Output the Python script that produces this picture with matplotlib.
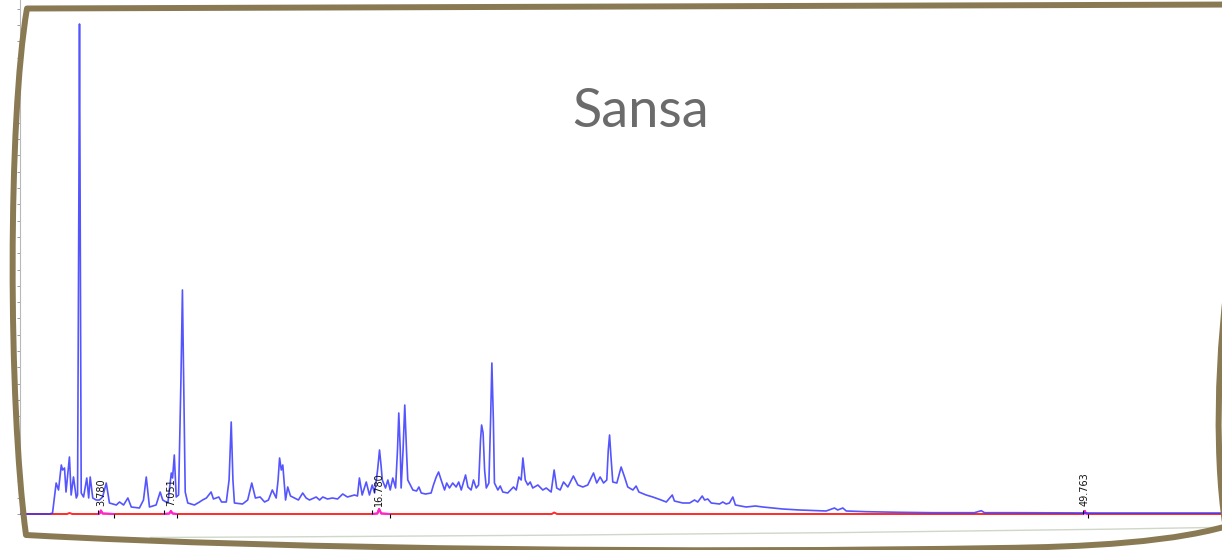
import numpy as np
import matplotlib
matplotlib.use("Agg")
import matplotlib.pyplot as plt
from matplotlib.path import Path
from matplotlib.patches import PathPatch

# ---- detector trace (retention time in minutes, signal in mAU) ----
blue_time = [
    0.00, 1.38, 1.52, 1.69, 1.80, 1.93, 1.99, 2.08, 2.15, 2.31,
    2.39, 2.50, 2.63, 2.69, 2.75, 2.78, 2.82, 2.86, 2.97, 3.12,
    3.21, 3.28, 3.40, 3.56, 3.71, 3.86, 4.03, 4.18, 4.50, 4.65,
    4.84, 5.04, 5.20, 5.58, 5.77, 5.90, 6.05, 6.36, 6.55, 6.67,
    6.91, 7.07, 7.13, 7.21, 7.30, 7.41, 7.52, 7.59, 7.66, 7.72,
    7.84, 8.15, 8.39, 8.53, 8.71, 8.93, 9.04, 9.29, 9.42, 9.64,
    9.77, 9.87, 9.95, 10.02, 10.40, 10.64, 10.83, 11.00, 11.22, 11.43,
    11.61, 11.79, 11.97, 12.06, 12.13, 12.21, 12.28, 12.41, 12.51, 12.64,
    12.83, 13.01, 13.21, 13.37, 13.53, 13.84, 14.00, 14.15, 14.37, 14.60,
    14.84, 15.08, 15.30, 15.63, 15.77, 15.86, 15.99, 16.18, 16.33, 16.46,
    16.57, 16.71, 16.80, 16.87, 16.93, 17.08, 17.19, 17.30, 17.42, 17.55,
    17.64, 17.70, 17.77, 17.81, 17.90, 17.98, 18.06, 18.12, 18.36, 18.53,
    18.64, 18.75, 18.95, 19.21, 19.32, 19.45, 19.56, 19.68, 19.84, 19.94,
    20.07, 20.22, 20.38, 20.50, 20.62, 20.82, 20.93, 21.08, 21.19, 21.32,
    21.43, 21.52, 21.57, 21.64, 21.71, 21.79, 21.91, 21.99, 22.05, 22.12,
    22.17, 22.33, 22.44, 22.56, 22.79, 23.06, 23.19, 23.31, 23.42, 23.50,
    23.61, 23.73, 23.84, 23.96, 24.20, 24.43, 24.59, 24.82, 24.96, 25.08,
    25.24, 25.40, 25.60, 25.86, 26.07, 26.30, 26.53, 26.80, 26.95, 27.11,
    27.27, 27.42, 27.49, 27.55, 27.61, 27.70, 27.89, 28.09, 28.25, 28.40,
    28.64, 28.79, 28.92, 29.26, 29.57, 29.96, 30.20, 30.48, 30.58, 30.97,
    31.29, 31.52, 31.67, 31.88, 31.99, 32.14, 32.30, 32.69, 32.84, 33.00,
    33.15, 33.31, 33.43, 33.93, 34.37, 34.71, 35.64, 36.43, 37.67, 38.06,
    38.21, 38.45, 38.61, 39.54, 41.10, 42.64, 44.60, 44.92, 45.07, 46.55,
    50.44, 57.00,
]
blue_signal = [
    0, 0, 1, 31, 24, 49, 44, 46, 22, 57,
    19, 37, 16, 19, 314, 490, 264, 21, 17, 36,
    16, 37, 16, 14, 14, 17, 31, 11, 9, 12,
    9, 16, 7, 6, 14, 37, 7, 9, 22, 14,
    11, 41, 36, 59, 17, 19, 134, 224, 114, 22,
    11, 9, 12, 14, 16, 22, 15, 17, 12, 12,
    34, 92, 34, 11, 10, 14, 31, 16, 17, 12,
    14, 24, 16, 34, 56, 44, 49, 14, 27, 18,
    16, 14, 21, 16, 14, 17, 14, 17, 15, 16,
    15, 20, 17, 19, 18, 36, 19, 32, 19, 29,
    21, 44, 64, 49, 34, 26, 34, 24, 36, 26,
    64, 101, 64, 26, 64, 109, 64, 34, 24, 23,
    27, 21, 20, 21, 29, 37, 42, 34, 24, 31,
    26, 31, 27, 32, 24, 39, 27, 24, 34, 26,
    29, 74, 89, 81, 44, 26, 31, 94, 151, 94,
    31, 24, 28, 22, 21, 27, 24, 37, 34, 56,
    34, 29, 32, 26, 29, 24, 26, 22, 44, 26,
    24, 32, 27, 38, 29, 27, 29, 41, 31, 37,
    31, 34, 64, 79, 59, 32, 31, 47, 37, 27,
    24, 28, 22, 19, 17, 14, 12, 19, 13, 11,
    11, 14, 12, 18, 14, 15, 11, 10, 12, 10,
    11, 17, 9, 7, 8, 7, 5, 4, 3, 6,
    4, 6, 3, 2.3, 1.7, 1.3, 1.3, 3.3, 1.3, 1.3,
    1.0, 1.0,
]

# ---- second channel ----
red_time = [0.00, 2.20, 2.31, 2.45, 3.64, 3.72, 3.78, 3.86, 4.38,
            6.72, 6.98, 7.05, 7.13, 7.33, 16.46, 16.70, 16.78, 16.88,
            17.27, 24.85, 24.96, 25.10, 49.66, 49.72, 49.763, 49.81,
            49.90, 57.00]
red_signal = [0, 0, 1, 0, 0, 0.5, 3.5, 0.5, 0,
              0, 0.5, 3, 0.5, 0, 0, 0.5, 5, 0.5,
              0, 0, 1.5, 0, 0, 0.5, 3, 0.5,
              0, 0]

# ---- integrated peaks ----
peak_rt = [3.780, 7.051, 16.780, 49.763]
peak_start = [3.64, 6.72, 16.46, 49.66]
peak_end = [4.38, 7.33, 17.27, 49.90]
peak_labels = ["3.780", "7.051", "16.780", "49.763"]

title = "Sansa"

W, H = 1222, 550
fig = plt.figure(figsize=(W / 100, H / 100), dpi=100)
fig.patch.set_facecolor("white")

# chromatogram axes: left edge sits on the signal axis
x0 = 20
ax = fig.add_axes([x0 / W, 0, (W - x0) / W, 1])
px_per_min = 21.4
ax.set_xlim(0, (W - x0) / px_per_min)
ax.set_ylim(-36, 514)
ax.set_facecolor("none")
for side in ("top", "right", "bottom"):
    ax.spines[side].set_visible(False)
ax.spines["left"].set_color("#b8b8b8")
ax.spines["left"].set_linewidth(0.8)
ax.spines["left"].set_bounds(0, 514)
ax.set_xticks([])
ax.set_yticks(np.arange(0, 514, 16.3))
ax.tick_params(axis="y", length=2.0, width=0.6, color="#8a8a8a",
               labelleft=False, direction="out")

bt = np.array(blue_time)
bs = np.array(blue_signal)
rt = np.array(red_time)
rs = np.array(red_signal)

ax.plot(rt, rs, color="#ff2a2a", lw=1.4, zorder=2, solid_joinstyle="round")
for s, e in zip(peak_start, peak_end):
    m = (rt >= s) & (rt <= e)
    ax.plot(rt[m], rs[m], color="#ff22dd", lw=1.4, zorder=3)
ax.plot(bt, bs, color="#2f2fff", lw=1.2, alpha=0.82, zorder=4,
        solid_joinstyle="round")

# integration start/end marks and retention time labels
ax.vlines(peak_start, 0, 4.5, color="black", lw=0.8, zorder=5)
ax.vlines(peak_end, -4, 0, color="black", lw=0.8, zorder=5)
for r, lab in zip(peak_rt, peak_labels):
    ax.text(r, 8, lab, rotation=90, ha="center", va="bottom",
            fontsize=7, color="#111111", zorder=6)

fig.text(641 / W, 1 - 127 / H, title, ha="center", va="baseline",
         fontsize=39, color="#6b6b6b", family=["Lato", "DejaVu Sans"],
         fontweight="normal")

# decorative frame drawn in pixel space
ov = fig.add_axes([0, 0, 1, 1])
ov.set_xlim(0, W)
ov.set_ylim(H, 0)
ov.axis("off")
ov.set_facecolor("none")

C4 = Path.CURVE4
frame_col = "#8a7a54"

shadow = Path([(150, 537.5), (500, 536), (900, 533), (1240, 527)],
              [Path.MOVETO, C4, C4, C4])
ov.add_patch(PathPatch(shadow, fill=False, edgecolor="#c9d3c2",
                       lw=1.0, alpha=0.9, zorder=1))

outline = Path(
    [(1240, 4.5), (27, 8.5),
     (8, 120), (8, 400), (26, 535),
     (300, 550), (700, 553), (1000, 548),
     (1080, 547), (1180, 543), (1240, 522)],
    [Path.MOVETO, Path.LINETO, C4, C4, C4, C4, C4, C4, C4, C4, C4])
ov.add_patch(PathPatch(outline, fill=False, edgecolor=frame_col, lw=4.3,
                       joinstyle="round", capstyle="round", zorder=2))

right_edge = Path([(1228, 540), (1214, 470), (1216, 350), (1232, 250)],
                  [Path.MOVETO, C4, C4, C4])
ov.add_patch(PathPatch(right_edge, fill=False, edgecolor=frame_col, lw=4.3,
                       capstyle="round", zorder=2))

fig.savefig("out.png", dpi=100, facecolor="white")
